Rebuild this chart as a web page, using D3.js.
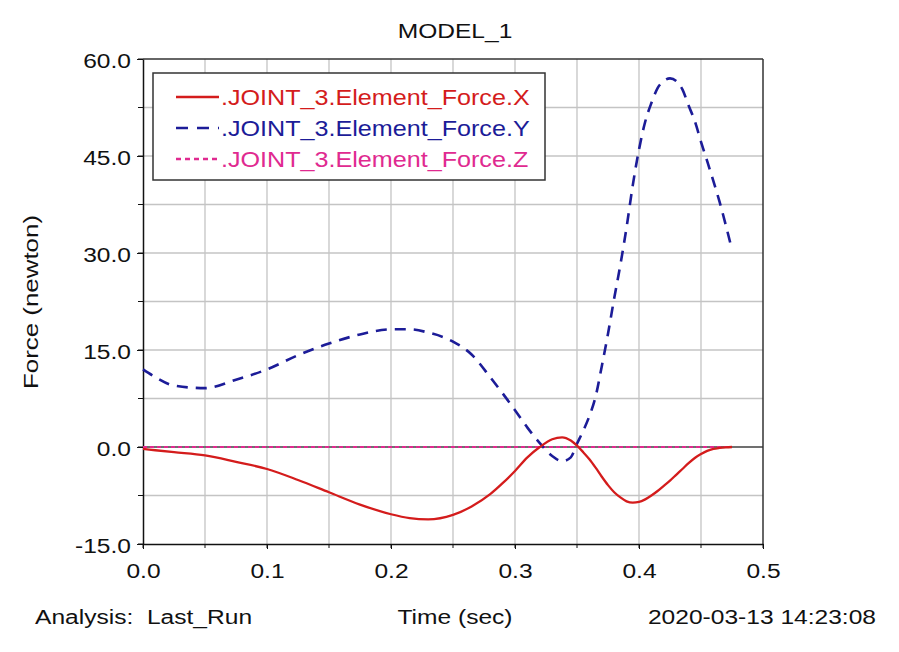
<!DOCTYPE html>
<html><head><meta charset="utf-8">
<script src="https://cdn.jsdelivr.net/npm/d3@7"></script>
<style>body{margin:0;background:#fff}svg{display:block}text{font-family:"Liberation Sans",Arial,sans-serif}</style>
</head><body><svg id="c" width="899" height="652"></svg>
<script>
const title = "MODEL_1";
const seriesNames = [".JOINT_3.Element_Force.X", ".JOINT_3.Element_Force.Y", ".JOINT_3.Element_Force.Z"];
const time = [0,0.01,0.025,0.05,0.075,0.1,0.125,0.15,0.175,0.2,0.215,0.23,0.25,0.265,0.28,0.29,0.30,0.31,0.32,0.33,0.338,0.345,0.35,0.355,0.36,0.365,0.37,0.375,0.38,0.385,0.39,0.395,0.40,0.405,0.41,0.415,0.42,0.425,0.43,0.435,0.44,0.445,0.45,0.455,0.46,0.465,0.47,0.475];
const forceX = [-0.3,-0.5,-0.8,-1.3,-2.3,-3.4,-5.1,-7.0,-8.9,-10.4,-11.0,-11.2,-10.5,-9.2,-7.3,-5.6,-3.7,-1.6,0.0,1.2,1.5,1.0,0.2,-0.8,-1.9,-3.2,-4.6,-5.9,-7.0,-7.8,-8.4,-8.6,-8.5,-8.1,-7.5,-6.8,-6.0,-5.2,-4.3,-3.4,-2.5,-1.7,-1.1,-0.6,-0.3,-0.15,-0.05,0.0];
const forceY = [12.0,10.8,9.5,9.1,10.4,12.0,14.2,16.0,17.4,18.2,18.2,17.7,16.3,14.3,10.8,8.3,5.7,3.0,0.6,-1.4,-2.2,-1.6,0.5,2.5,4.8,7.8,12.5,17.5,23.0,28.2,34.0,40.5,46.0,50.3,53.2,55.5,56.6,57.0,56.6,55.3,52.8,50.4,47.2,44.2,41.1,37.9,34.3,30.5];
const forceZ = time.map(() => 0);
const xTicks = [0,0.1,0.2,0.3,0.4,0.5];
const yTicks = [-15,0,15,30,45,60];
const xMinor = [0,0.05,0.1,0.15,0.2,0.25,0.3,0.35,0.4,0.45,0.5];
const yMinor = [-15,-7.5,0,7.5,15,22.5,30,37.5,45,52.5,60];
const colors = ["#d41c1c", "#1c1c98", "#e02a90"];
const dashes = [null, "11,8", "4,3"];

const SX = 1.17; // horizontal stretch of the reference's lettering
const svg = d3.select("#c");
const L = 143, R = 763, T = 59, B = 544;
const x = d3.scaleLinear().domain([0,0.5]).range([L,R]);
const y = d3.scaleLinear().domain([-15,60]).range([B,T]);

function label(px, py, str, size, anchor) {
  return svg.append("text").attr("transform", `translate(${px},${py}) scale(${SX},1)`)
    .attr("text-anchor", anchor || "start").attr("font-size", size).attr("fill", "#111")
    .attr("xml:space","preserve").text(str);
}

// grid
svg.append("g").selectAll("line").data(xMinor.slice(1,-1)).join("line")
  .attr("x1",d=>x(d)).attr("x2",d=>x(d)).attr("y1",T).attr("y2",B)
  .attr("stroke","#c4c4c4").attr("stroke-width",1.3);
svg.append("g").selectAll("line").data(yMinor.slice(1,-1)).join("line")
  .attr("x1",L).attr("x2",R).attr("y1",d=>y(d)).attr("y2",d=>y(d))
  .attr("stroke", d=> d===0 ? "#707070" : "#c4c4c4").attr("stroke-width", d=> d===0?2:1.6);

// frame top/right
svg.append("line").attr("x1",L).attr("x2",R).attr("y1",T).attr("y2",T).attr("stroke","#333").attr("stroke-width",1.5);
svg.append("line").attr("x1",R).attr("x2",R).attr("y1",T).attr("y2",B).attr("stroke","#333").attr("stroke-width",1.5);

// axes
const fmt = d => d3.format(".1f")(d).replace("\u2212", "-");
const xAxis = d3.axisBottom(x).tickValues(xTicks).tickFormat(fmt).tickSize(5).tickSizeOuter(0);
const gx = svg.append("g").attr("transform",`translate(0,${B})`).call(xAxis);
gx.selectAll("text").attr("font-size",21).attr("fill","#111").attr("y",0).attr("dy",0)
  .attr("transform",`translate(0,34) scale(${SX},1)`);
gx.select(".domain").attr("stroke","#111").attr("stroke-width",1.5);
gx.selectAll(".tick line").attr("stroke","#111");
svg.append("g").attr("transform",`translate(0,${B})`).selectAll("line").data(xMinor).join("line")
  .attr("x1",d=>x(d)).attr("x2",d=>x(d)).attr("y1",0).attr("y2",4).attr("stroke","#111");

const yAxis = d3.axisLeft(y).tickValues(yTicks).tickFormat(fmt).tickSize(6).tickSizeOuter(0);
const gy = svg.append("g").attr("transform",`translate(${L},0)`).call(yAxis);
gy.selectAll("text").attr("font-size",21).attr("fill","#111").attr("x",0).attr("dy",0)
  .attr("xml:space","preserve").attr("transform",`translate(-12,8) scale(${SX},1)`);
gy.select(".domain").attr("stroke","#111").attr("stroke-width",1.5);
gy.selectAll(".tick line").attr("stroke","#111");
svg.append("g").attr("transform",`translate(${L},0)`).selectAll("line").data(yMinor).join("line")
  .attr("x1",-5).attr("x2",0).attr("y1",d=>y(d)).attr("y2",d=>y(d)).attr("stroke","#111");

// series
const series = [forceX, forceY, forceZ];
const line = d3.line().x(d=>x(d[0])).y(d=>y(d[1])).curve(d3.curveMonotoneX);
[2, 1, 0].forEach((i) => {
  const vals = series[i];
  const p = svg.append("path").datum(time.map((t,k)=>[t, vals[k]]))
    .attr("d", line).attr("fill","none").attr("stroke",colors[i])
    .attr("stroke-width", i===1 ? 2.6 : (i===0 ? 2.3 : 2));
  if (dashes[i]) p.attr("stroke-dasharray", dashes[i]);
});

// legend
const lg = svg.append("g");
lg.append("rect").attr("x",153).attr("y",73).attr("width",392).attr("height",107)
  .attr("fill","#fff").attr("stroke","#333").attr("stroke-width",1.5);
seriesNames.forEach((n,i) => {
  const yy = 97 + i*31;
  lg.append("line").attr("x1",176).attr("x2",219).attr("y1",yy).attr("y2",yy)
    .attr("stroke",colors[i]).attr("stroke-width", 2.6).attr("stroke-dasharray", i===1 ? "12,9" : (i===2 ? "5,4" : null));
  lg.append("text").attr("transform",`translate(221,${yy+8}) scale(${SX},1)`)
    .attr("font-size",21.5).attr("fill",colors[i]).text(n);
});

// titles
label(455, 38, title, 21, "middle");
svg.append("text").attr("transform","translate(38,302) rotate(-90)").attr("text-anchor","middle")
  .attr("font-size",21).attr("fill","#111").attr("textLength",174).attr("lengthAdjust","spacingAndGlyphs").text("Force (newton)");
label(35, 624, "Analysis:  Last_Run", 21);
label(455, 624, "Time (sec)", 21, "middle");
label(876, 624, "2020-03-13 14:23:08", 21, "end");
</script></body></html>
